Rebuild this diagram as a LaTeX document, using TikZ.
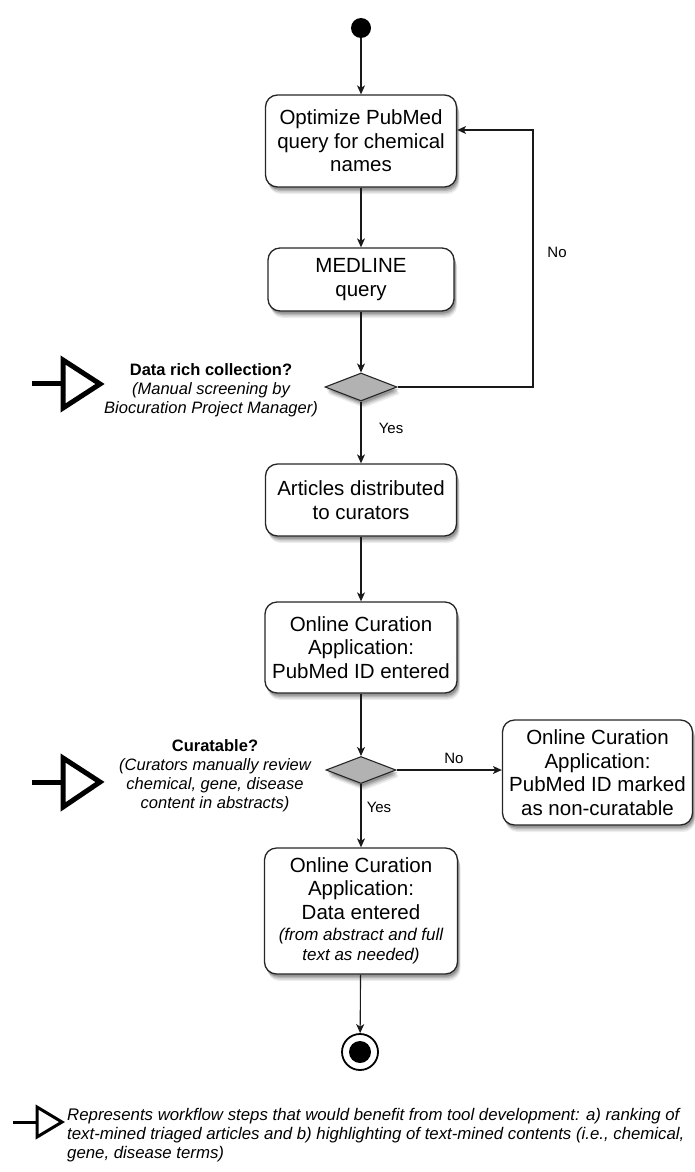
\documentclass[tikz,border=0pt]{standalone}
\usepackage{fontspec}
\setmainfont{Liberation Sans}
\usetikzlibrary{shapes.geometric,arrows.meta,shadows}
\begin{document}
\begin{tikzpicture}[x=1pt,y=-1pt,
  shd/.style={
    drop shadow={shadow xshift=3pt,shadow yshift=-7pt,fill=black,opacity=0.07},
    drop shadow={shadow xshift=2.5pt,shadow yshift=-5.5pt,fill=black,opacity=0.1},
    drop shadow={shadow xshift=2pt,shadow yshift=-4pt,fill=black,opacity=0.14},
    drop shadow={shadow xshift=1.5pt,shadow yshift=-2.5pt,fill=black,opacity=0.18}},
  stepbox/.style={draw=black!85,line width=1.3pt,rounded corners=12pt,fill=white,align=center,
    inner sep=0pt,font=\fontsize{20.5}{23.5}\selectfont,shd},
  decision/.style={diamond,draw=black!85,line width=1.1pt,fill=black!30,inner sep=0pt,shd},
  arr/.style={-{Stealth[length=9pt,width=8pt,inset=2.5pt]},line width=1.1pt,draw=black!90},
  lbl/.style={font=\fontsize{15}{18}\selectfont,inner sep=0pt},
  note/.style={align=center,inner sep=0pt,font=\fontsize{16.5}{19}\selectfont},
  marker/.style={line width=5pt,draw=black},
]
\useasboundingbox (0,0) rectangle (694,1172);

% start / end
\node[circle,fill=black,minimum size=20pt,inner sep=0pt] (start) at (361,28) {};
\node[circle,draw=black,line width=1.8pt,fill=white,minimum size=36pt,inner sep=0pt] (stop) at (360,1052) {};
\node[circle,fill=black,minimum size=22pt,inner sep=0pt] (stopin) at (stop.center) {};

% boxes
\node[stepbox,minimum width=191pt,minimum height=92pt] (b1) at (361,141)
  {Optimize PubMed\\query for chemical\\names};
\node[stepbox,minimum width=186pt,minimum height=63pt] (b2) at (361,279.5)
  {MEDLINE\\query};
\node[decision,minimum width=72pt,minimum height=28pt] (d1) at (361,387) {};
\node[stepbox,minimum width=191pt,minimum height=72pt] (b3) at (361,500)
  {Articles distributed\\to curators};
\node[stepbox,minimum width=192pt,minimum height=91pt] (b4) at (361,647.5)
  {Online Curation\\Application:\\PubMed ID entered};
\node[decision,minimum width=70pt,minimum height=27pt] (d2) at (361,770) {};
\node[stepbox,minimum width=190pt,minimum height=105pt] (b5) at (597.5,772.5)
  {Online Curation\\Application:\\PubMed ID marked\\as non-curatable};
\node[stepbox,minimum width=193pt,minimum height=126pt] (b6) at (361,911)
  {Online Curation\\Application:\\Data entered\\[-2pt]{\fontsize{17}{20}\selectfont\itshape (from abstract and full}\\[-3.5pt]{\fontsize{17}{20}\selectfont\itshape text as needed)}};

% connectors
\draw[arr] (start) -- (b1);
\draw[arr] (b1) -- (b2);
\draw[arr] (b2) -- (d1);
\coordinate (loop) at (533,130);
\draw[arr] (d1.east) -| (loop) -- (b1.east |- loop);
\draw[arr] (d1) -- (b3);
\draw[arr] (b3) -- (b4);
\draw[arr] (b4) -- (d2);
\draw[arr] (d2.east) -- (b5.west |- d2.east);
\draw[arr] (d2) -- (b6);
\draw[arr] (b6) -- (stop);

% labels
\node[lbl] (no1) at (557,252) {No};
\node[lbl] (yes1) at (391,428) {Yes};
\node[lbl] (no2) at (454,758) {No};
\node[lbl] (yes2) at (379,807) {Yes};

% annotations
\node[note] (n1) at (211,390)
  {\textbf{Data rich collection?}\\\itshape (Manual screening by\\\itshape Biocuration Project Manager)};
\node[note] (n2) at (215,776)
  {\textbf{Curatable?}\\\itshape (Curators manually review\\\itshape chemical, gene, disease\\\itshape content in abstracts)};

% markers
\draw[marker] (32,383) -- (63,383);
\draw[marker,line join=miter] (63,360) -- (100,384) -- (63,408) -- cycle;
\draw[marker] (32,782) -- (63,782);
\draw[marker,line join=miter] (63,758) -- (100,782) -- (63,807) -- cycle;

% legend
\draw[line width=3pt] (13,1122) -- (37,1122);
\draw[line width=3pt,line join=miter] (37,1107) -- (62,1122) -- (37,1137) -- cycle;
\node[anchor=north west,align=left,inner sep=0pt,font=\fontsize{16.8}{19}\selectfont\itshape] (legend) at (67,1108)
  {Represents workflow steps that would benefit from tool development: a) ranking of\\
   text-mined triaged articles and b) highlighting of text-mined contents (i.e., chemical,\\
   gene, disease terms)};
\end{tikzpicture}
\end{document}
